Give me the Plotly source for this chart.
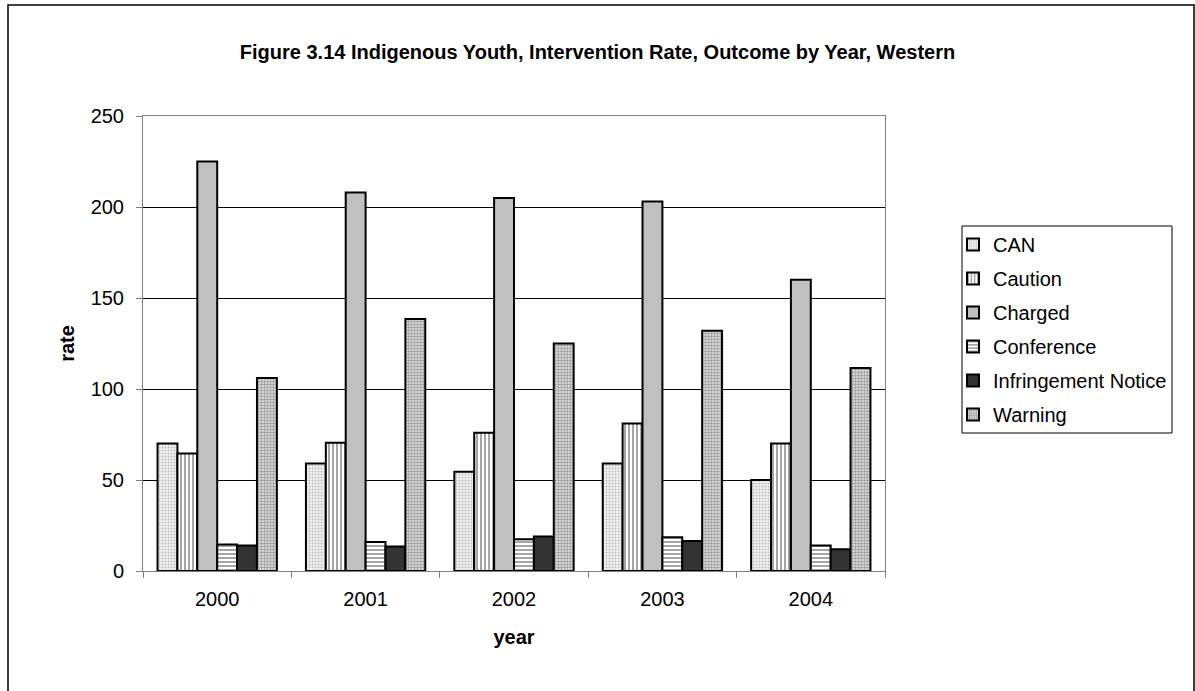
import plotly.graph_objects as go

# Intervention rate per outcome, Indigenous youth, Western region
years = ["2000", "2001", "2002", "2003", "2004"]
outcomes = ["CAN", "Caution", "Charged", "Conference", "Infringement Notice", "Warning"]
can = [70, 59, 54.5, 59, 50]
caution = [64.5, 70.5, 76, 81, 70]
charged = [225, 208, 205, 203, 160]
conference = [14.5, 16, 17.5, 18.5, 14]
infringement = [14, 13.5, 19, 16.5, 12]
warning = [106, 138.5, 125, 132, 111.5]

series = [can, caution, charged, conference, infringement, warning]

# fill style per outcome: (background, pattern shape, pattern colour, size, solidity)
fills = [
    ("#f4f4f4", ".", "#bdbdbd", 3, 0.35),
    ("#ffffff", "|", "#a6a6a6", 4, 0.5),
    ("#c0c0c0", "", "#c0c0c0", 4, 0.3),
    ("#ffffff", "-", "#a6a6a6", 4, 0.5),
    ("#333333", "", "#333333", 4, 0.3),
    ("#e4e4e4", ".", "#9a9a9a", 3, 0.5),
]

FONT = "Liberation Sans, Arial, sans-serif"
TXT = 20

# plot-area pixel box, used to place paper-anchored items
L, R, T, B = 143, 885, 116, 571


def px(x):
    return (x - L) / (R - L)


def py(y):
    return (B - y) / (B - T)


fig = go.Figure()
for i, (name, vals) in enumerate(zip(outcomes, series)):
    bg, shape, fg, size, sol = fills[i]
    fig.add_trace(go.Bar(
        name=name,
        x=years,
        y=vals,
        legendgroup=name,
        marker=dict(
            color=bg,
            line=dict(color="#000000", width=2),
            pattern=dict(shape=shape, fgcolor=fg, bgcolor=bg, size=size,
                         solidity=sol, fillmode="replace"),
        ),
    ))

fig.update_layout(
    width=1195,
    height=691,
    margin=dict(l=L, r=1195 - R, t=T, b=691 - B),
    paper_bgcolor="#ffffff",
    plot_bgcolor="#ffffff",
    barmode="group",
    bargap=0.196,
    bargroupgap=0,
    font=dict(family=FONT, size=TXT, color="#000000"),
    title=dict(
        text="<b>Figure 3.14 Indigenous Youth, Intervention Rate, Outcome by Year, Western</b>",
        x=0.5, xref="container", xanchor="center",
        y=1 - 52 / 691, yref="container", yanchor="middle",
        font=dict(family=FONT, size=20, color="#000000"),
    ),
    legend=dict(
        x=px(953), xanchor="left",
        y=py(225), yanchor="top",
        bgcolor="rgba(0,0,0,0)",
        borderwidth=0,
        font=dict(family=FONT, size=TXT, color="#000000"),
        traceorder="grouped",
        tracegroupgap=5,
        itemwidth=30,
    ),
    showlegend=True,
)

fig.update_xaxes(
    type="category",
    showline=True, linecolor="#808080", linewidth=1, mirror=True,
    ticks="outside", tickson="boundaries", ticklen=6, tickcolor="#808080",
    tickfont=dict(family=FONT, size=TXT),
    ticklabelstandoff=10,
    showgrid=False,
    title=dict(text="<b>year</b>", font=dict(family=FONT, size=TXT), standoff=20),
)

fig.update_yaxes(
    range=[0, 250],
    dtick=50,
    showline=True, linecolor="#808080", linewidth=1, mirror=True,
    ticks="outside", ticklen=6, tickcolor="#808080",
    tickfont=dict(family=FONT, size=TXT),
    ticklabelstandoff=8,
    showgrid=True, gridcolor="#000000", gridwidth=1,
    zeroline=False,
    title=dict(text="<b>rate</b>", font=dict(family=FONT, size=TXT), standoff=10),
)

# outer chart frame
fig.add_shape(
    type="rect", xref="paper", yref="paper",
    x0=px(8), x1=px(1194), y0=py(700), y1=py(5),
    line=dict(color="#000000", width=1.5),
    fillcolor="rgba(0,0,0,0)",
    layer="below",
)

# legend box
fig.add_shape(
    type="rect", xref="paper", yref="paper",
    x0=px(962), x1=px(1172), y0=py(433), y1=py(226),
    line=dict(color="#000000", width=1),
    fillcolor="#ffffff",
    layer="below",
)

fig.write_html("out.html")
